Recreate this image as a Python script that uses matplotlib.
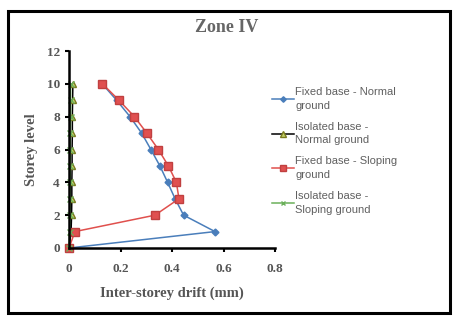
import matplotlib
matplotlib.use("Agg")
import matplotlib.pyplot as plt
from matplotlib.patches import Rectangle

storey = [0, 1, 2, 3, 4, 5, 6, 7, 8, 9, 10]
fixed_normal = [0, 0.567, 0.445, 0.412, 0.383, 0.353, 0.318, 0.282, 0.237, 0.185, 0.129]
isolated_normal = [0, 0.008, 0.010, 0.011, 0.011, 0.012, 0.012, 0.013, 0.013, 0.014, 0.015]
fixed_sloping = [0, 0.023, 0.334, 0.427, 0.417, 0.386, 0.347, 0.302, 0.254, 0.194, 0.130]
isolated_sloping = [0, 0.003, 0.004, 0.004, 0.005, 0.005, 0.005, 0.005, 0.006, 0.006, 0.006]
labels = ["Fixed base - Normal\nground", "Isolated base -\nNormal ground",
          "Fixed base - Sloping\nground", "Isolated base -\nSloping ground"]
xticks = [0, 0.2, 0.4, 0.6, 0.8]
yticks = [0, 2, 4, 6, 8, 10, 12]

W, H = 455, 324
fig = plt.figure(figsize=(W / 100, H / 100), dpi=100)
fig.patches.append(Rectangle((8 / W, 11 / H), 442 / W, 302 / H, transform=fig.transFigure,
                             fill=False, edgecolor="black", linewidth=2.2))
ax = fig.add_axes([69 / W, 1 - 248 / H, 206 / W, 197 / H])

l1, = ax.plot(fixed_normal, storey, color="#4A7EBB", marker="D", markersize=3.5,
              linewidth=1.1, markeredgecolor="#4A7EBB", clip_on=False)
l2, = ax.plot(isolated_normal, storey, color="black", marker="^", markersize=5,
              markerfacecolor="#C3D069", markeredgecolor="#7A7A20", linewidth=1.1,
              clip_on=False)
l3, = ax.plot(fixed_sloping, storey, color="#E0504D", marker="s", markersize=5.5,
              markerfacecolor="#E05050", markeredgecolor="#C04040", linewidth=1.1,
              clip_on=False)
l4, = ax.plot(isolated_sloping, storey, color="#6BB05A", marker="x", markersize=4,
              linewidth=1.1, clip_on=False)

ax.set_xlim(0, 0.8)
ax.set_ylim(0, 12)
ax.set_xticks(xticks)
ax.set_xticklabels([f"{v:g}" for v in xticks])
ax.set_yticks(yticks)
for s in ["top", "right"]:
    ax.spines[s].set_visible(False)
for s in ["left", "bottom"]:
    ax.spines[s].set_linewidth(1.8)
ax.tick_params(axis="both", width=1.5, length=3, direction="out", colors="black",
               labelcolor="#555555", labelsize=9.5)
ax.tick_params(axis="x", pad=8)
for t in ax.get_xticklabels() + ax.get_yticklabels():
    t.set_fontfamily("Liberation Serif")
    t.set_fontweight("bold")

ax.set_xlabel("Inter-storey drift (mm)", fontfamily="Liberation Serif", fontweight="bold",
              fontsize=10.5, color="#555555", labelpad=8)
ax.set_ylabel("Storey level", fontfamily="Liberation Serif", fontweight="bold",
              fontsize=10.5, color="#555555", labelpad=6)
fig.text(227 / W, 1 - 28 / H, "Zone IV", ha="center", va="center",
         fontfamily="Liberation Serif", fontweight="bold", fontsize=13, color="#666666")

leg = fig.legend([l1, l2, l3, l4], labels, loc="upper left",
                 bbox_to_anchor=(262 / W, 1 - 77 / H), frameon=False,
                 prop={"family": "Liberation Sans", "size": 8},
                 handlelength=2.0, handletextpad=0.1, labelspacing=1.0,
                 markerscale=0.8)
for t in leg.get_texts():
    t.set_color("#606060")
    t.set_linespacing(1.45)

fig.savefig("out.png", dpi=100)
